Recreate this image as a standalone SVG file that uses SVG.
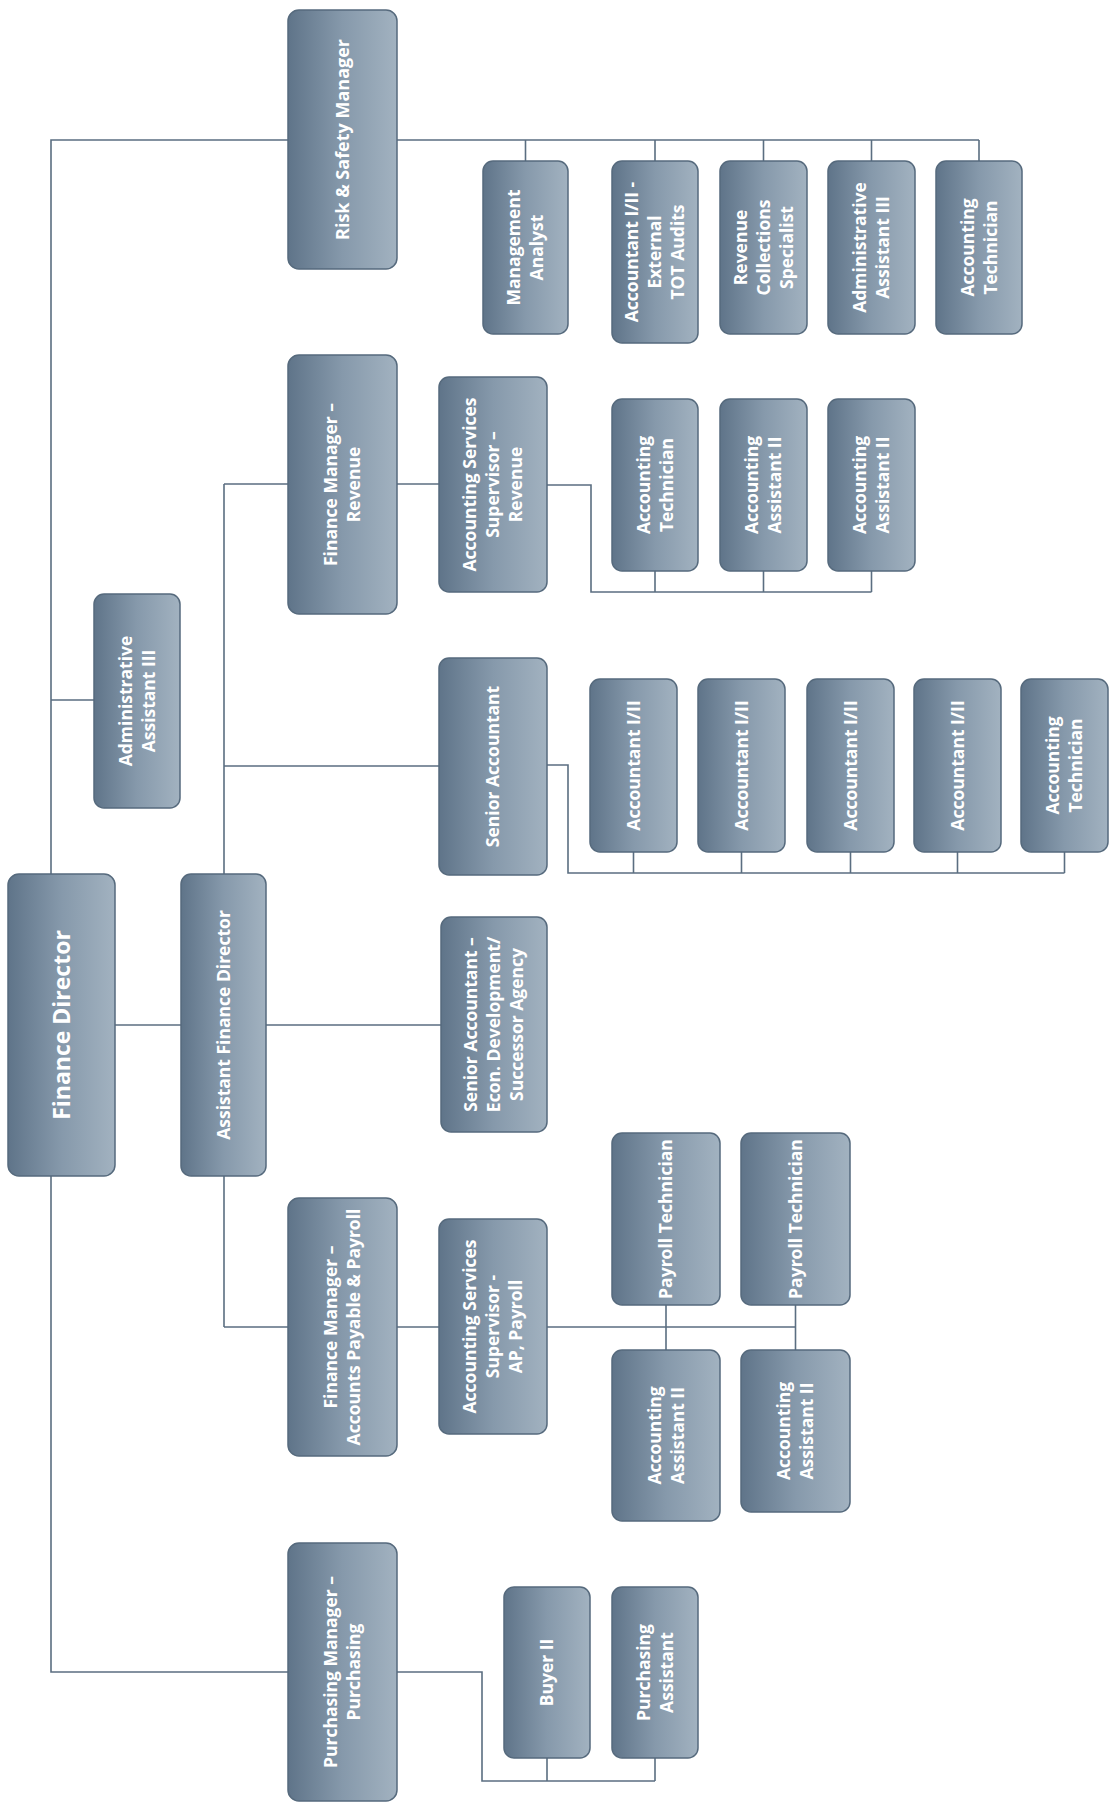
<svg xmlns="http://www.w3.org/2000/svg" width="1110" height="1808" viewBox="0 0 1110 1808">
<defs>
<linearGradient id="g" x1="0" y1="0" x2="1" y2="0">
<stop offset="0" stop-color="#5f7489"/>
<stop offset="0.5" stop-color="#8699ab"/>
<stop offset="1" stop-color="#a2b2c0"/>
</linearGradient>
<style>
.n rect{fill:url(#g);stroke:#566a7d;stroke-width:1.5}
.n text{fill:#ffffff;font-family:"Open Sans","Noto Sans","Liberation Sans",sans-serif;font-weight:bold;font-size:17.5px;text-anchor:middle}
.c path{fill:none;stroke:#5b6e81;stroke-width:1.6}
</style>
</defs>
<rect width="1110" height="1808" fill="#ffffff"/>
<g class="c" id="connectors">
<path d="M288 140 H51 V874 M51 1176 V1672 H288 M51 700 H94"/>
<path d="M397 140 H979 M525.5 140 V161 M655 140 V161 M763.5 140 V161 M871.5 140 V161 M979 140 V161"/>
<path d="M115 1025 H181"/>
<path d="M224 484 V874 M224 1176 V1327 M224 484 H288 M224 766 H439 M266 1025 H441 M224 1327 H288"/>
<path d="M397 484 H439"/>
<path d="M547 485 H591 V592 H871.5 M655 571 V592 M763.5 571 V592 M871.5 571 V592"/>
<path d="M547 765 H568 V873 H1064.5 M633.5 852 V873 M741.5 852 V873 M850.5 852 V873 M957.5 852 V873 M1064.5 852 V873"/>
<path d="M397 1327 H439"/>
<path d="M547 1327 H795.5 M666 1305 V1350 M795.5 1305 V1350"/>
<path d="M397 1672 H482 V1781 H655 M547 1758 V1781 M655 1758 V1781"/>
</g>
<g class="n" id="finance-director"><rect x="8" y="874" width="107" height="302" rx="11"/><text transform="translate(61.5 1025) rotate(-90)" style="font-size:23px" dy="8">Finance Director</text></g>
<g class="n" id="admin-assistant-left"><rect x="94" y="594" width="86" height="214" rx="10"/><text transform="translate(137 701) rotate(-90)"><tspan x="0" dy="-5.5">Administrative</tspan><tspan x="0" dy="23">Assistant III</tspan></text></g>
<g class="n" id="assistant-finance-director"><rect x="181" y="874" width="85" height="302" rx="10"/><text transform="translate(223.5 1025) rotate(-90)" dy="6">Assistant Finance Director</text></g>
<g class="n" id="risk-safety"><rect x="288" y="10" width="109" height="259" rx="11"/><text transform="translate(342.5 139.5) rotate(-90)" style="font-size:18px" dy="6">Risk &amp; Safety Manager</text></g>
<g class="n" id="fm-revenue"><rect x="288" y="355" width="109" height="259" rx="11"/><text transform="translate(342.5 484.5) rotate(-90)"><tspan x="0" dy="-5.5">Finance Manager –</tspan><tspan x="0" dy="23">Revenue</tspan></text></g>
<g class="n" id="fm-ap-payroll"><rect x="288" y="1198" width="109" height="258" rx="11"/><text transform="translate(342.5 1327) rotate(-90)"><tspan x="0" dy="-5.5">Finance Manager –</tspan><tspan x="0" dy="23">Accounts Payable &amp; Payroll</tspan></text></g>
<g class="n" id="purchasing-manager"><rect x="288" y="1543" width="109" height="258" rx="11"/><text transform="translate(342.5 1672) rotate(-90)"><tspan x="0" dy="-5.5">Purchasing Manager –</tspan><tspan x="0" dy="23">Purchasing</tspan></text></g>
<g class="n" id="ass-revenue"><rect x="439" y="377" width="108" height="215" rx="10"/><text transform="translate(493 484.5) rotate(-90)"><tspan x="0" dy="-17">Accounting Services</tspan><tspan x="0" dy="23">Supervisor –</tspan><tspan x="0" dy="23">Revenue</tspan></text></g>
<g class="n" id="senior-accountant"><rect x="439" y="658" width="108" height="217" rx="10"/><text transform="translate(493 766.5) rotate(-90)" dy="6">Senior Accountant</text></g>
<g class="n" id="senior-accountant-econ"><rect x="441" y="917" width="106" height="215" rx="10"/><text transform="translate(494 1024.5) rotate(-90)"><tspan x="0" dy="-17">Senior Accountant –</tspan><tspan x="0" dy="23">Econ. Development/</tspan><tspan x="0" dy="23">Successor Agency</tspan></text></g>
<g class="n" id="ass-ap-payroll"><rect x="439" y="1219" width="108" height="215" rx="10"/><text transform="translate(493 1326.5) rotate(-90)"><tspan x="0" dy="-17">Accounting Services</tspan><tspan x="0" dy="23">Supervisor -</tspan><tspan x="0" dy="23">AP, Payroll</tspan></text></g>
<g class="n" id="management-analyst"><rect x="483" y="161" width="85" height="173" rx="10"/><text transform="translate(525.5 247.5) rotate(-90)"><tspan x="0" dy="-5.5">Management</tspan><tspan x="0" dy="23">Analyst</tspan></text></g>
<g class="n" id="accountant-tot"><rect x="612" y="161" width="86" height="182" rx="10"/><text transform="translate(655 252) rotate(-90)"><tspan x="0" dy="-17">Accountant I/II -</tspan><tspan x="0" dy="23">External</tspan><tspan x="0" dy="23">TOT Audits</tspan></text></g>
<g class="n" id="revenue-collections"><rect x="720" y="161" width="87" height="173" rx="10"/><text transform="translate(763.5 247.5) rotate(-90)"><tspan x="0" dy="-17">Revenue</tspan><tspan x="0" dy="23">Collections</tspan><tspan x="0" dy="23">Specialist</tspan></text></g>
<g class="n" id="admin-assistant-top"><rect x="828" y="161" width="87" height="173" rx="10"/><text transform="translate(871.5 247.5) rotate(-90)"><tspan x="0" dy="-5.5">Administrative</tspan><tspan x="0" dy="23">Assistant III</tspan></text></g>
<g class="n" id="acct-tech-top"><rect x="936" y="161" width="86" height="173" rx="10"/><text transform="translate(979 247.5) rotate(-90)"><tspan x="0" dy="-5.5">Accounting</tspan><tspan x="0" dy="23">Technician</tspan></text></g>
<g class="n" id="acct-tech-rev"><rect x="612" y="399" width="86" height="172" rx="10"/><text transform="translate(655 485) rotate(-90)"><tspan x="0" dy="-5.5">Accounting</tspan><tspan x="0" dy="23">Technician</tspan></text></g>
<g class="n" id="acct-asst-rev-1"><rect x="720" y="399" width="87" height="172" rx="10"/><text transform="translate(763.5 485) rotate(-90)"><tspan x="0" dy="-5.5">Accounting</tspan><tspan x="0" dy="23">Assistant II</tspan></text></g>
<g class="n" id="acct-asst-rev-2"><rect x="828" y="399" width="87" height="172" rx="10"/><text transform="translate(871.5 485) rotate(-90)"><tspan x="0" dy="-5.5">Accounting</tspan><tspan x="0" dy="23">Assistant II</tspan></text></g>
<g class="n" id="accountant-1"><rect x="590" y="679" width="87" height="173" rx="10"/><text transform="translate(633.5 765.5) rotate(-90)" dy="6">Accountant I/II</text></g>
<g class="n" id="accountant-2"><rect x="698" y="679" width="87" height="173" rx="10"/><text transform="translate(741.5 765.5) rotate(-90)" dy="6">Accountant I/II</text></g>
<g class="n" id="accountant-3"><rect x="807" y="679" width="87" height="173" rx="10"/><text transform="translate(850.5 765.5) rotate(-90)" dy="6">Accountant I/II</text></g>
<g class="n" id="accountant-4"><rect x="914" y="679" width="87" height="173" rx="10"/><text transform="translate(957.5 765.5) rotate(-90)" dy="6">Accountant I/II</text></g>
<g class="n" id="acct-tech-sa"><rect x="1021" y="679" width="87" height="173" rx="10"/><text transform="translate(1064.5 765.5) rotate(-90)"><tspan x="0" dy="-5.5">Accounting</tspan><tspan x="0" dy="23">Technician</tspan></text></g>
<g class="n" id="payroll-tech-1"><rect x="612" y="1133" width="108" height="172" rx="10"/><text transform="translate(666 1219) rotate(-90)" dy="6">Payroll Technician</text></g>
<g class="n" id="payroll-tech-2"><rect x="741" y="1133" width="109" height="172" rx="10"/><text transform="translate(795.5 1219) rotate(-90)" dy="6">Payroll Technician</text></g>
<g class="n" id="acct-asst-ap-1"><rect x="612" y="1350" width="108" height="171" rx="10"/><text transform="translate(666 1435.5) rotate(-90)"><tspan x="0" dy="-5.5">Accounting</tspan><tspan x="0" dy="23">Assistant II</tspan></text></g>
<g class="n" id="acct-asst-ap-2"><rect x="741" y="1350" width="109" height="162" rx="10"/><text transform="translate(795.5 1431) rotate(-90)"><tspan x="0" dy="-5.5">Accounting</tspan><tspan x="0" dy="23">Assistant II</tspan></text></g>
<g class="n" id="buyer-2"><rect x="504" y="1587" width="86" height="171" rx="10"/><text transform="translate(547 1672.5) rotate(-90)" dy="6">Buyer II</text></g>
<g class="n" id="purchasing-assistant"><rect x="612" y="1587" width="86" height="171" rx="10"/><text transform="translate(655 1672.5) rotate(-90)"><tspan x="0" dy="-5.5">Purchasing</tspan><tspan x="0" dy="23">Assistant</tspan></text></g>
</svg>
